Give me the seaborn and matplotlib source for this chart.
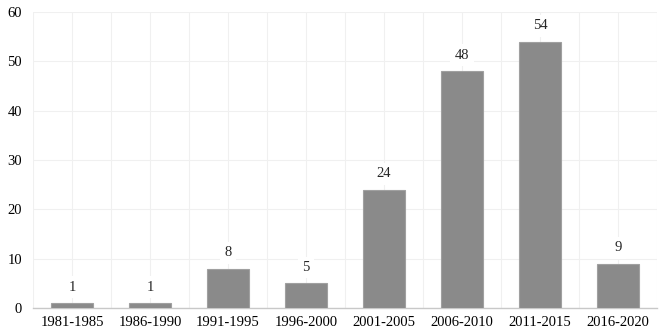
import matplotlib
matplotlib.use('Agg')
import matplotlib.pyplot as plt
import pandas as pd
import seaborn as sns
from matplotlib.ticker import MultipleLocator

periods = ['1981-1985', '1986-1990', '1991-1995', '1996-2000',
           '2001-2005', '2006-2010', '2011-2015', '2016-2020']
counts = [1, 1, 8, 5, 24, 48, 54, 9]

df = pd.DataFrame({'period': periods, 'count': counts})

sns.set_theme(style='white')
plt.rcParams['font.family'] = ['Liberation Serif', 'DejaVu Serif']

fig = plt.figure(figsize=(6.61, 3.36), dpi=100)
ax = fig.add_axes([0.05, 0.083, 0.944, 0.881])

sns.barplot(data=df, x='period', y='count', color='#8a8a8a', width=0.55,
            edgecolor='#a0a0a0', linewidth=0.8, saturation=1, ax=ax, zorder=3)

ax.set_xlim(-0.5, len(periods) - 0.5)
ax.set_ylim(0, 60)
ax.yaxis.set_major_locator(MultipleLocator(10))
ax.xaxis.set_minor_locator(MultipleLocator(0.5))
ax.grid(True, which='both', axis='both', color='#f0f0f0', linewidth=0.8, zorder=0)
ax.set_axisbelow(True)

for s in ['top', 'right', 'left']:
    ax.spines[s].set_visible(False)
ax.spines['bottom'].set_color('#c8c8c8')
ax.spines['bottom'].set_linewidth(1.0)

ax.set_xlabel('')
ax.set_ylabel('')
ax.tick_params(axis='both', which='both', length=0, labelsize=10.5, colors='black')
ax.tick_params(axis='x', pad=6)
ax.tick_params(axis='y', pad=8)

for i, v in enumerate(counts):
    ax.annotate(str(v), (i, v), xytext=(0, 11.5), textcoords='offset points',
                ha='center', va='center', fontsize=10.5, zorder=5,
                bbox=dict(boxstyle='square,pad=0.3', fc='white', ec='none'))

fig.savefig('out.png', dpi=100)
